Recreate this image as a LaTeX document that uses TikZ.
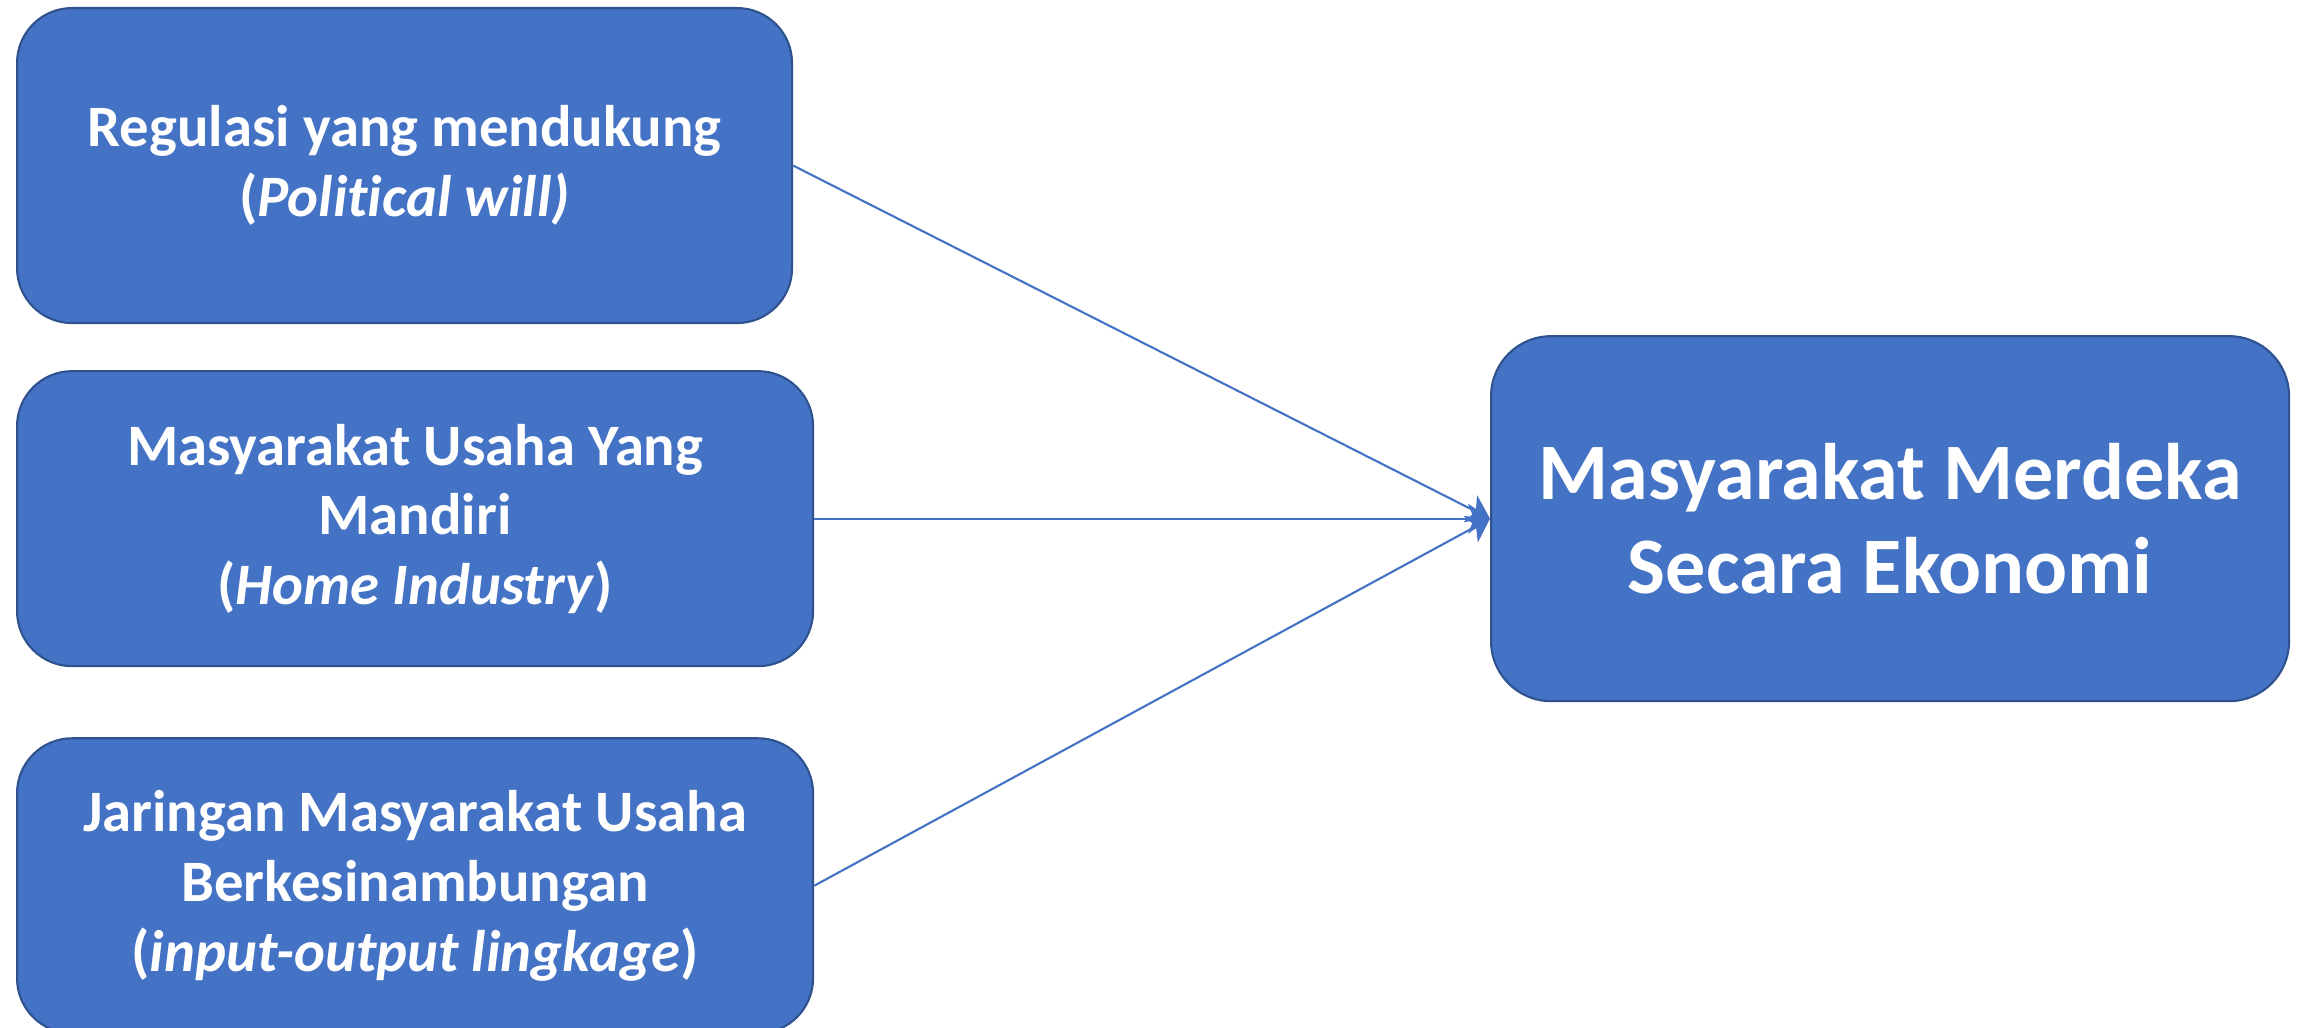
\documentclass[tikz,border=0pt]{standalone}
\usepackage{fontspec}
\setmainfont[Ligatures=NoCommon]{Carlito}
\usetikzlibrary{arrows.meta,positioning}

\definecolor{boxblue}{HTML}{4472C4}
\definecolor{boxedge}{HTML}{2F528F}

\begin{document}
\begin{tikzpicture}[
    factor/.style={draw=boxedge, fill=boxblue, line width=0.6pt, rounded corners=0.55cm, align=center, text=white, font=\fontsize{16.7}{19.8}\selectfont\bfseries, inner sep=0pt},
    goal/.style={draw=boxedge, fill=boxblue, line width=0.6pt, rounded corners=0.6cm, align=center, text=white, font=\fontsize{22.8}{27}\selectfont\bfseries, inner sep=0pt},
    link/.style={-{Stealth[length=0.22cm, width=0.3cm, inset=0.06cm]}, line width=0.6pt, boxblue}
  ]
    \useasboundingbox (0,0) rectangle (22.98,-10.28);

    \node[factor, minimum width=7.75cm, minimum height=3.15cm, anchor=north west] (reg) at (0.16,-0.07) {Regulasi yang mendukung\\(\textit{Political will)}};
    \node[factor, minimum width=7.96cm, minimum height=2.95cm, below=0.46cm of reg.south west, anchor=north west] (usaha) {Masyarakat Usaha Yang\\Mandiri\\(\textit{Home Industry})};
    \node[factor, minimum width=7.96cm, minimum height=2.95cm, below=0.7cm of usaha.south west, anchor=north west] (jaringan) {Jaringan Masyarakat Usaha\\Berkesinambungan\\(\textit{input-output lingkage})};
    \node[goal, minimum width=7.98cm, minimum height=3.65cm, anchor=west] (merdeka) at (usaha.east -| 14.90,0) {Masyarakat Merdeka\\Secara Ekonomi};

    \draw[link] (reg.east) -- (merdeka.west);
    \draw[link] (usaha.east) -- (merdeka.west);
    \draw[link] (jaringan.east) -- (merdeka.west);
  \end{tikzpicture}
\end{document}
